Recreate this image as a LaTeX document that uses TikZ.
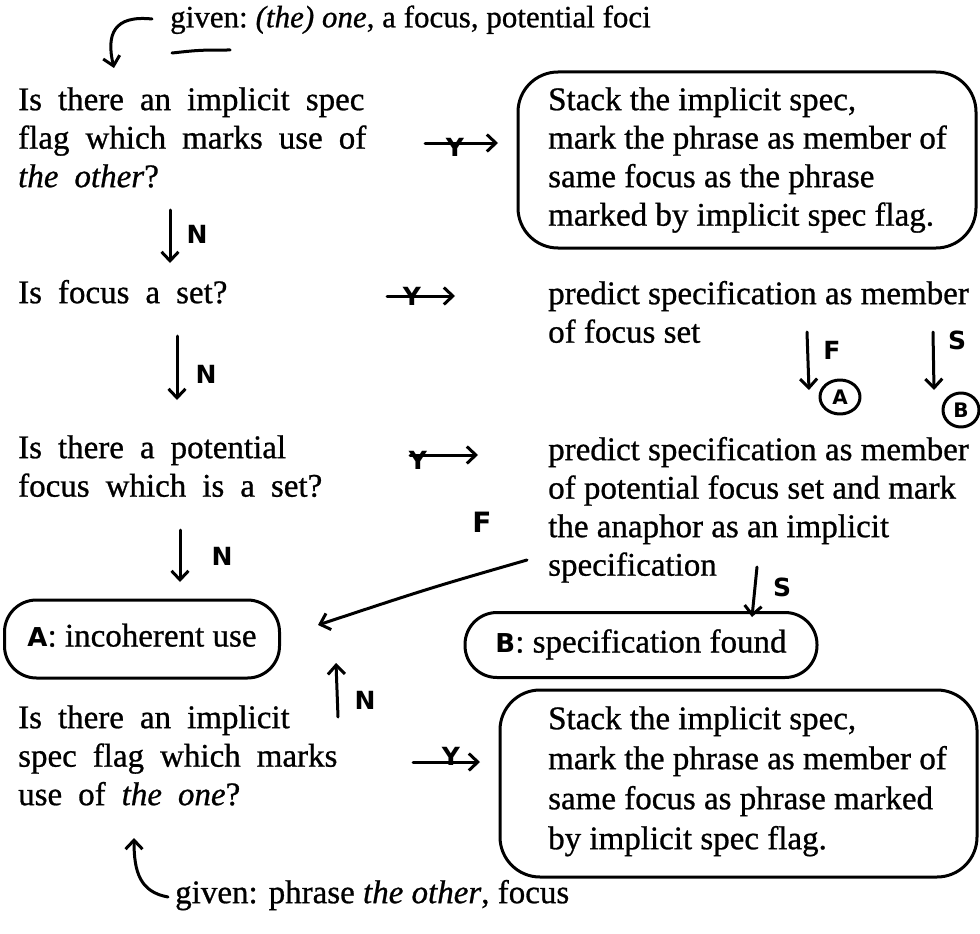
\documentclass[tikz,border=0pt]{standalone}
\usepackage{fontspec}
\setmainfont{Liberation Serif}[FakeBold=0.8]
\newfontfamily\handfont{DejaVu Sans}
\usetikzlibrary{arrows.meta,fit,shapes.geometric}
\newcommand\bodyfont{\fontsize{33}{38.5}\selectfont}
\newcommand\askfont{\fontsize{33}{38.5}\selectfont\setlength\spaceskip{16pt plus 2pt}}
\newcommand\widefont{\fontsize{33}{40}\selectfont}
\newcommand\givenfont{\fontsize{31}{38}\selectfont}
\tikzset{
  txt/.style={anchor=north west,inner sep=0pt,align=left,font=\bodyfont},
  qtxt/.style={txt,font=\askfont},
  hand/.style={inner sep=0pt,font=\handfont\bfseries\fontsize{25}{25}\selectfont},
  ink/.style={line width=3pt},
  blob/.style={draw,ink,rounded corners=40pt,inner sep=0pt},
  pill/.style={draw,ink,rounded corners=32pt,inner xsep=0pt,text height=22pt,text depth=7pt,font=\bodyfont},
  ringlbl/.style={draw,ink,ellipse,inner sep=0pt,font=\handfont\bfseries\fontsize{20}{20}\selectfont}
}
\begin{document}
\begin{tikzpicture}[line cap=round,line join=round,>={Straight Barb[length=9pt,width=17pt]},x=1pt,y=-1pt]
\useasboundingbox (0,0) rectangle (980,934);
\node[txt,font=\givenfont] (gtop) at (170,0.5) {\strut given:\hspace{8pt}\textit{(the) one}, a focus, potential foci};
\draw[ink] (172,53) .. controls (200,50) .. (230,50);
\coordinate (h1a) at (152,19);
\coordinate (h1b) at (114,68);
\draw[ink,->] (h1a) .. controls (114,15) and (106,34) .. (h1b);
\node[qtxt] (q1) at (18,83) {\strut Is there an implicit spec\\\strut flag which marks use of\\\strut\textit{the other}?};
\node[txt] (a1) at (548,83) {\strut Stack the implicit spec,\\\strut mark the phrase as member of\\\strut same focus as the phrase\\\strut marked by implicit spec flag.};
\coordinate (b1nw) at (518,72);
\coordinate (b1se) at (976,248);
\node[blob,fit=(b1nw)(b1se)] (a1box) {};
\node[qtxt] (q2) at (18,276) {\strut Is focus a set?};
\node[txt] (a2) at (548,277) {\strut predict specification as member\\\strut of focus set};
\node[qtxt] (q3) at (18,431) {\strut Is there a potential\\\strut focus which is a set?};
\node[txt] (a3) at (548,433) {\strut predict specification as member\\\strut of potential focus set and mark\\\strut the anaphor as an implicit\\\strut specification};
\node[pill,minimum width=275pt,minimum height=78pt] (endA) at (142,639) {{\handfont\bfseries\fontsize{26}{26}\selectfont A}: incoherent use};
\node[pill,minimum width=352pt,minimum height=65pt] (endB) at (641,645) {{\handfont\bfseries\fontsize{26}{26}\selectfont B}: specification found};
\node[qtxt] (q4) at (18,701) {\strut Is there an implicit\\\strut spec flag which marks\\\strut use of \textit{the one}?};
\node[txt,font=\widefont] (a4) at (548,701) {\strut Stack the implicit spec,\\\strut mark the phrase as member of\\\strut same focus as phrase marked\\\strut by implicit spec flag.};
\coordinate (b4nw) at (500,690);
\coordinate (b4se) at (977,877);
\node[blob,fit=(b4nw)(b4se)] (a4box) {};
\node[txt] (gbot) at (175,876) {\strut given: phrase \textit{the other}, focus};
\coordinate (h2a) at (168,897);
\coordinate (h2b) at (134,838);
\draw[ink,->] (h2a) .. controls (140,892) and (134,872) .. (h2b);
\node[ringlbl,minimum width=40pt,minimum height=34pt] (cA) at (840,397) {A};
\node[ringlbl,minimum width=36pt,minimum height=34pt] (cB) at (961,410) {B};
\coordinate (y1a) at (425,143);
\coordinate (y1b) at (498,143);
\draw[ink,->] (y1a) -- (y1b);
\node[hand,anchor=south] (y1) at (455,157) {Y};
\coordinate (y2a) at (387,296);
\coordinate (y2b) at (455,296);
\draw[ink,->] (y2a) -- (y2b);
\node[hand,anchor=south] (y2) at (412,306) {Y};
\coordinate (y3a) at (410,455);
\coordinate (y3b) at (478,455);
\draw[ink,->] (y3a) -- (y3b);
\node[hand,anchor=south] (y3) at (418,470) {Y};
\coordinate (y4a) at (413,762);
\coordinate (y4b) at (480,762);
\draw[ink,->] (y4a) -- (y4b);
\node[hand,anchor=south] (y4) at (451,766) {Y};
\coordinate (n1a) at (170,210);
\coordinate (n1b) at (170,263);
\draw[ink,->] (n1a) -- (n1b);
\node[hand] (n1) at (197,234) {N};
\coordinate (n2a) at (177,336);
\coordinate (n2b) at (177,400);
\draw[ink,->] (n2a) -- (n2b);
\node[hand] (n2) at (206,374) {N};
\coordinate (n3a) at (180,530);
\coordinate (n3b) at (180,582);
\draw[ink,->] (n3a) -- (n3b);
\node[hand] (n3) at (222,556) {N};
\coordinate (n4a) at (338,717);
\coordinate (n4b) at (336,663);
\draw[ink,->] (n4a) -- (n4b);
\node[hand] (n4) at (365,700) {N};
\coordinate (f1a) at (807,332);
\coordinate (f1b) at (809,390);
\draw[ink,->] (f1a) -- (f1b);
\node[hand] (f1) at (832,350) {F};
\coordinate (s1a) at (933,332);
\coordinate (s1b) at (934,390);
\draw[ink,->] (s1a) -- (s1b);
\node[hand] (s1) at (957,340) {S};
\coordinate (s2a) at (757,567);
\coordinate (s2b) at (752,617);
\draw[ink,->] (s2a) -- (s2b);
\node[hand] (s2) at (782,587) {S};
\coordinate (f2a) at (527,560);
\coordinate (f2b) at (318,625);
\draw[ink,->] (f2a) .. controls (430,588) .. (f2b);
\node[hand,font=\handfont\bfseries\fontsize{28}{28}\selectfont] (f2) at (482,522) {F};
\end{tikzpicture}
\end{document}
